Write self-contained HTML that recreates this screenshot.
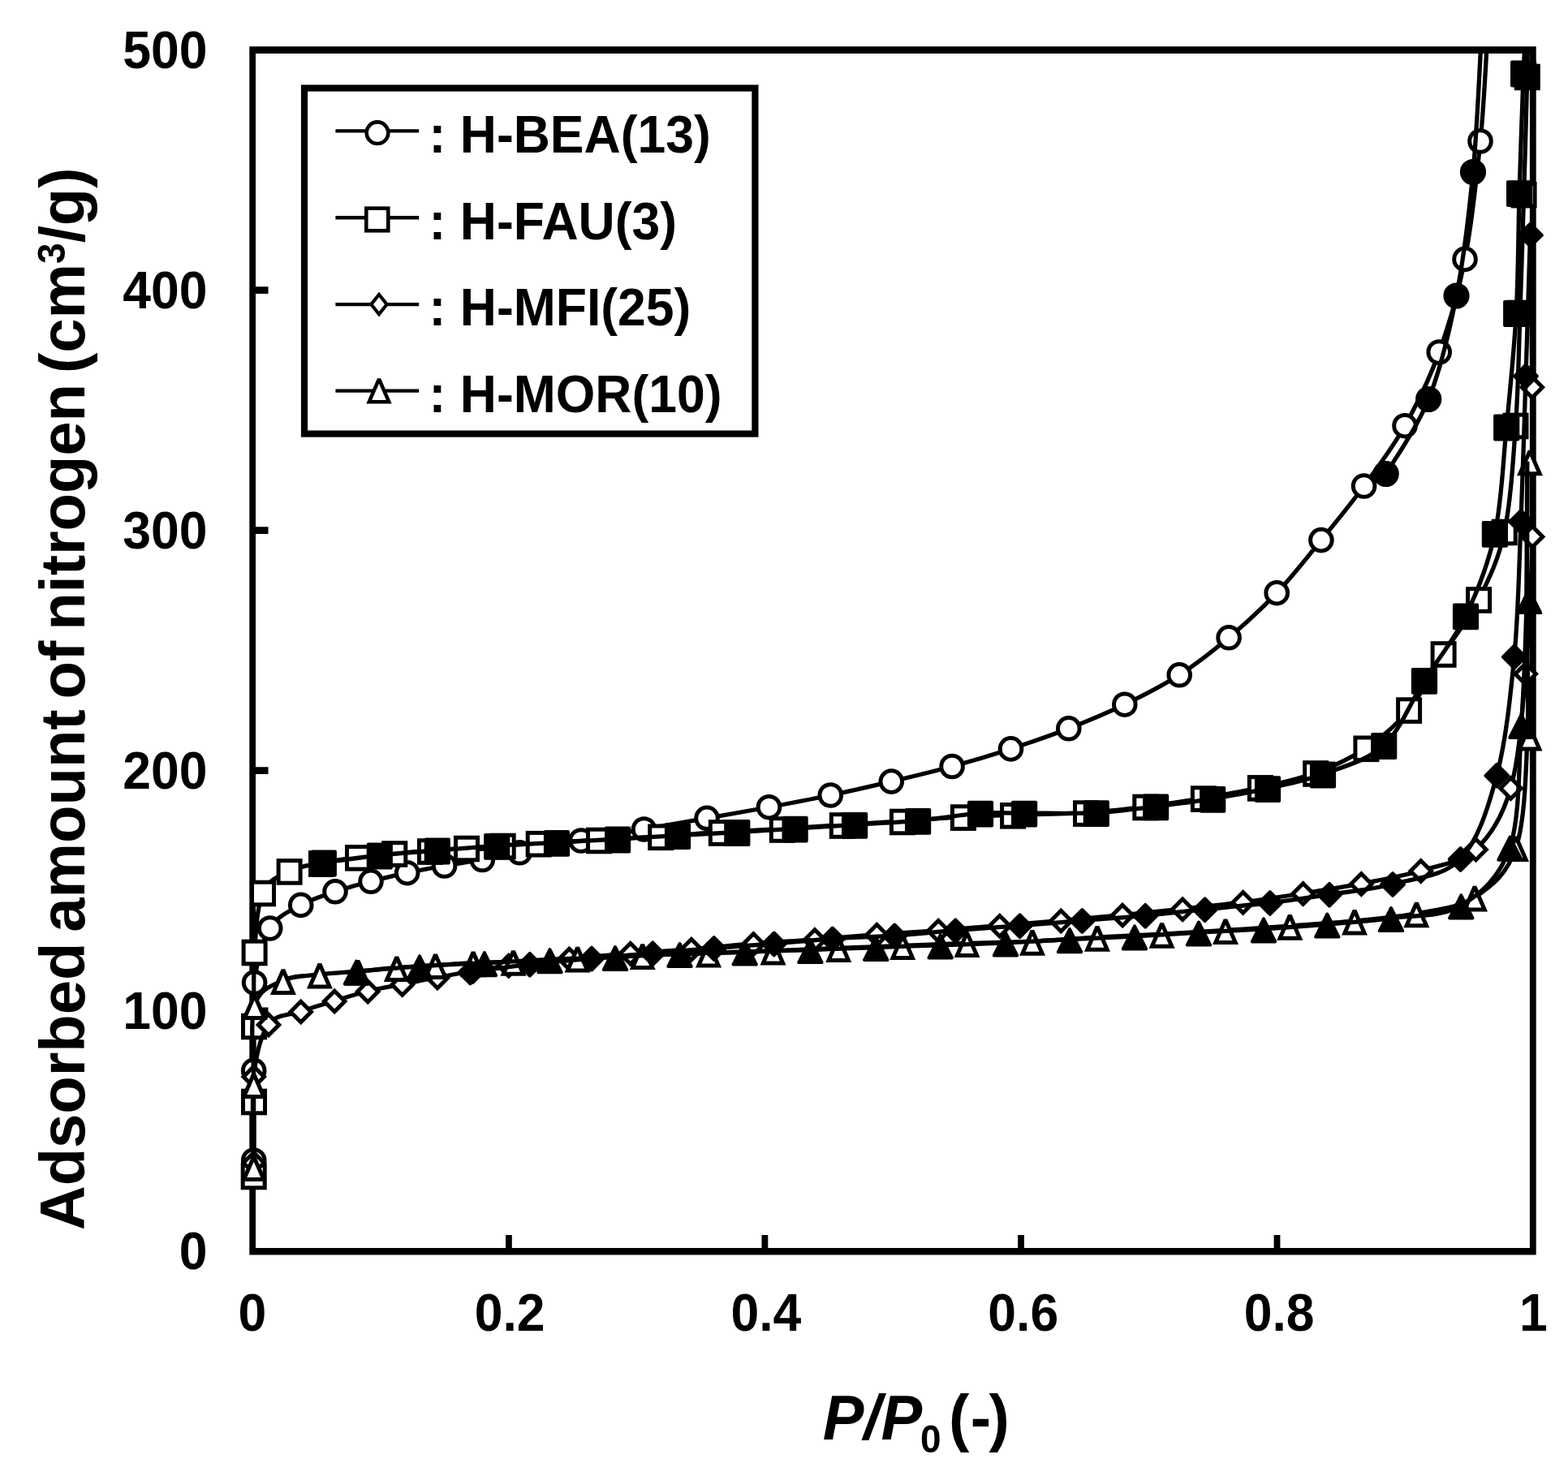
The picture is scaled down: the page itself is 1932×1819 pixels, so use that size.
<!DOCTYPE html>
<html lang="en">
<head>
<meta charset="utf-8">
<title>Nitrogen adsorption isotherms</title>
<style>
html,body{margin:0;padding:0;background:#fff;}
body{width:1932px;height:1819px;overflow:hidden;}
svg{display:block;}
text{font-family:'Liberation Sans', Arial, Helvetica, sans-serif;font-weight:bold;fill:#000;}
.tk{font-size:62.5px;}
.lg{font-size:62.5px;}
.ax{font-size:76px;}
.ln{fill:none;stroke:#000;stroke-width:5.3;stroke-linejoin:round;stroke-linecap:butt;}
.mo{fill:#fff;stroke:#000;stroke-width:5.0;stroke-linejoin:miter;stroke-miterlimit:2;}
.mf{fill:#000;stroke:#000;stroke-width:4;stroke-linejoin:round;}
.fr{fill:none;stroke:#000;}
</style>
</head>
<body>
<svg width="1932" height="1819" viewBox="0 0 1932 1819">
<rect x="0" y="0" width="1932" height="1819" fill="#fff"/>
<defs><clipPath id="plot"><rect x="291.2" y="61.7" width="1617.6" height="1490.4"/></clipPath></defs>

<path fill="#000" fill-rule="evenodd" d="M307.3 57.3H1892.7V1546.5H307.3Z M315 66V1538H1884.9V66Z"/>
<path fill="#000" d="M314.5 1241.4h16v8.8h-16zM314.5 945.3h16v8.8h-16zM314.5 649.3h16v8.8h-16zM314.5 353.2h16v8.8h-16zM623 1538.5v-16.4h7.8v16.4zM938.5 1538.5v-16.4h7.8v16.4zM1254.1 1538.5v-16.4h7.8v16.4zM1569.6 1538.5v-16.4h7.8v16.4z"/>
<g>
<path class="ln" clip-path="url(#plot)" d="M312.7 1430C312.7 1411.6 312.5 1355.9 312.7 1319.4C312.9 1282.9 310.3 1240.2 313.6 1211C316.9 1181.8 323.2 1159.9 332.7 1144C342.2 1128.1 357.3 1122.9 370.7 1115.4C384.1 1107.9 398.6 1103.7 413 1098.8C427.4 1093.9 442.2 1090.1 457 1086.3C471.8 1082.5 486.6 1078.9 501.7 1075.7C516.8 1072.5 532.2 1069.7 547.6 1067C563 1064.3 578.8 1062.2 594.3 1059.5C609.8 1056.8 620 1054.7 640.3 1050.8C660.6 1046.9 690.5 1040.8 716 1036C741.5 1031.2 767.7 1026.6 793.5 1022C819.3 1017.4 845.3 1012.8 871 1008.3C896.7 1003.8 922.1 999.4 947.5 994.7C972.9 990 998.2 985.3 1023.3 980C1048.4 974.7 1073.3 969 1098.3 963.1C1123.3 957.2 1148.6 951.2 1173.1 944.5C1197.6 937.8 1221.5 930.7 1245.5 922.9C1269.5 915.1 1293.4 906.9 1316.8 897.8C1340.2 888.7 1363.1 879.2 1385.8 868.2C1408.5 857.2 1431.8 845.5 1453.2 831.8C1474.6 818.1 1494.1 802.6 1514.1 785.8C1534.1 768.9 1554.2 750.7 1573.2 730.7C1592.2 710.7 1610 687.6 1627.9 665.6C1645.8 643.6 1663.4 622.5 1680.6 599C1697.8 575.5 1715.6 552.2 1731 524.7C1746.4 497.2 1760.9 468.2 1773.2 434C1785.5 399.8 1796.5 362.7 1805 319.4C1813.5 276.1 1819.3 220.6 1824 174C1828.7 127.4 1831.5 62.3 1833 40"/>
<g class="mo">
<circle cx="312.7" cy="1430" r="13.3"/>
<circle cx="312.7" cy="1319.4" r="13.3"/>
<circle cx="313.6" cy="1211" r="13.3"/>
<circle cx="332.7" cy="1144" r="13.3"/>
<circle cx="370.7" cy="1115.4" r="13.3"/>
<circle cx="413" cy="1098.8" r="13.3"/>
<circle cx="457" cy="1086.3" r="13.3"/>
<circle cx="501.7" cy="1075.7" r="13.3"/>
<circle cx="547.6" cy="1067" r="13.3"/>
<circle cx="594.3" cy="1059.5" r="13.3"/>
<circle cx="640.3" cy="1050.8" r="13.3"/>
<circle cx="716" cy="1036" r="13.3"/>
<circle cx="793.5" cy="1022" r="13.3"/>
<circle cx="871" cy="1008.3" r="13.3"/>
<circle cx="947.5" cy="994.7" r="13.3"/>
<circle cx="1023.3" cy="980" r="13.3"/>
<circle cx="1098.3" cy="963.1" r="13.3"/>
<circle cx="1173.1" cy="944.5" r="13.3"/>
<circle cx="1245.5" cy="922.9" r="13.3"/>
<circle cx="1316.8" cy="897.8" r="13.3"/>
<circle cx="1385.8" cy="868.2" r="13.3"/>
<circle cx="1453.2" cy="831.8" r="13.3"/>
<circle cx="1514.1" cy="785.8" r="13.3"/>
<circle cx="1573.2" cy="730.7" r="13.3"/>
<circle cx="1627.9" cy="665.6" r="13.3"/>
<circle cx="1680.6" cy="599" r="13.3"/>
<circle cx="1731" cy="524.7" r="13.3"/>
<circle cx="1773.2" cy="434" r="13.3"/>
<circle cx="1805" cy="319.4" r="13.3"/>
<circle cx="1824" cy="174" r="13.3"/>
</g>
<path class="ln" clip-path="url(#plot)" d="M312.7 1449C312.8 1433.7 312.9 1387.8 313 1357C313.1 1326.2 312.9 1294.7 313 1264C313.1 1233.3 311.8 1200.3 313.6 1173C315.4 1145.7 316.8 1116.6 324 1100C331.2 1083.4 344.6 1079.5 356.6 1073.4C368.6 1067.3 381.9 1066.3 396 1063.5C410.1 1060.7 425.9 1058.3 441 1056.3C456.1 1054.3 471.5 1052.8 486.3 1051.5C501.1 1050.2 515.2 1049.6 530 1048.5C544.8 1047.4 560 1046.1 575 1045C590 1043.9 604.9 1043 619.7 1042C634.5 1041 644 1040.4 663.7 1039.2C683.4 1038 712.9 1036.4 738 1035C763.1 1033.6 789.1 1032.4 814.2 1030.8C839.3 1029.2 863.9 1027 888.8 1025.5C913.7 1024 939 1023 963.8 1021.5C988.6 1020 1013.1 1018.1 1037.8 1016.5C1062.5 1014.9 1087.1 1013.6 1111.9 1012C1136.8 1010.4 1164.2 1007.9 1186.9 1006.6C1209.6 1005.3 1222.9 1005.1 1248.1 1004.3C1273.3 1003.5 1310.8 1003.3 1338 1001.6C1365.2 999.9 1387.1 997 1411.3 994C1435.5 991 1459.3 987.5 1482.9 983.6C1506.5 979.7 1529.9 975.6 1552.9 970.4C1576 965.2 1599.5 960.6 1621.2 952.5C1643 944.4 1664.2 934.8 1683.4 921.8C1702.6 908.8 1720.2 894 1736.1 874.6C1752 855.2 1764.3 828.2 1778.6 805.5C1792.9 782.8 1809.6 763.6 1822.1 738.5C1834.6 713.4 1846.1 690.8 1853.7 655C1861.3 619.2 1864.3 569 1867.5 524C1870.7 479 1871.3 432.5 1873 385C1874.7 337.5 1876.1 287.7 1877.6 239.2C1879.1 190.7 1881 130.7 1881.8 94C1882.6 57.3 1882.4 31.5 1882.5 19"/>
<g class="mo">
<rect x="299.2" y="1436.2" width="27" height="27.6"/>
<rect x="299.5" y="1344.2" width="27" height="27.6"/>
<rect x="299.5" y="1251.2" width="27" height="27.6"/>
<rect x="300.1" y="1160.2" width="27" height="27.6"/>
<rect x="310.5" y="1087.2" width="27" height="27.6"/>
<rect x="343.1" y="1060.6" width="27" height="27.6"/>
<rect x="382.5" y="1050.7" width="27" height="27.6"/>
<rect x="427.5" y="1043.5" width="27" height="27.6"/>
<rect x="472.8" y="1038.7" width="27" height="27.6"/>
<rect x="516.5" y="1035.7" width="27" height="27.6"/>
<rect x="561.5" y="1032.2" width="27" height="27.6"/>
<rect x="606.2" y="1029.2" width="27" height="27.6"/>
<rect x="650.2" y="1026.4" width="27" height="27.6"/>
<rect x="724.5" y="1022.2" width="27" height="27.6"/>
<rect x="800.7" y="1018" width="27" height="27.6"/>
<rect x="875.3" y="1012.7" width="27" height="27.6"/>
<rect x="950.3" y="1008.7" width="27" height="27.6"/>
<rect x="1024.3" y="1003.7" width="27" height="27.6"/>
<rect x="1098.4" y="999.2" width="27" height="27.6"/>
<rect x="1173.4" y="993.8" width="27" height="27.6"/>
<rect x="1234.6" y="991.5" width="27" height="27.6"/>
<rect x="1324.5" y="988.8" width="27" height="27.6"/>
<rect x="1397.8" y="981.2" width="27" height="27.6"/>
<rect x="1469.4" y="970.8" width="27" height="27.6"/>
<rect x="1539.4" y="957.6" width="27" height="27.6"/>
<rect x="1607.7" y="939.7" width="27" height="27.6"/>
<rect x="1669.9" y="909" width="27" height="27.6"/>
<rect x="1722.6" y="861.8" width="27" height="27.6"/>
<rect x="1765.1" y="792.7" width="27" height="27.6"/>
<rect x="1808.6" y="725.7" width="27" height="27.6"/>
<rect x="1840.2" y="642.2" width="27" height="27.6"/>
<rect x="1854" y="511.2" width="27" height="27.6"/>
<rect x="1859.5" y="372.2" width="27" height="27.6"/>
<rect x="1864.1" y="226.4" width="27" height="27.6"/>
<rect x="1868.3" y="81.2" width="27" height="27.6"/>
</g>
<path class="ln" clip-path="url(#plot)" d="M312.7 1432.5C312.7 1414.8 309.6 1354.8 312.7 1326.5C315.8 1298.2 321.3 1275.8 331 1262.5C340.7 1249.2 357.2 1251.3 370.7 1246.5C384.2 1241.7 398.4 1237.7 412.2 1233.5C425.9 1229.3 439.3 1224.9 453.2 1221.5C467.1 1218.1 481.4 1215.8 495.7 1213C510 1210.2 524.5 1207.2 539 1204.5C553.5 1201.8 568.4 1199 583 1196.5C597.6 1194 607 1192.3 626.7 1189.8C646.4 1187.3 676.4 1184 701.4 1181.5C726.4 1179 751.7 1176.8 776.8 1174.8C801.9 1172.8 826.6 1171.8 851.9 1169.8C877.2 1167.8 903.1 1164.9 928.4 1162.9C953.7 1160.9 978.6 1159.8 1003.9 1157.9C1029.2 1156 1055 1153.6 1080.4 1151.7C1105.8 1149.8 1131 1148.5 1156.2 1146.7C1181.4 1144.9 1206.6 1142.7 1231.8 1140.7C1257 1138.7 1282.1 1136.7 1307.3 1134.5C1332.5 1132.3 1358.1 1130 1383.1 1127.6C1408.1 1125.2 1432.3 1122.8 1457.1 1120.2C1481.8 1117.6 1506.8 1115 1531.6 1111.8C1556.3 1108.6 1581.3 1104.8 1605.6 1101C1629.9 1097.2 1653.1 1093.6 1677.3 1088.9C1701.5 1084.2 1727.2 1080.1 1750.7 1073C1774.2 1065.9 1800 1063.5 1818.5 1046.5C1837 1029.5 1851.3 1007.1 1861.5 971C1871.7 934.9 1875.3 881.8 1879.7 830.1C1884.1 778.4 1886.8 719.8 1888.1 660.9C1889.4 602 1888.1 538.7 1887.8 476.8C1887.5 414.9 1886.3 320.7 1886 289.5"/>
<g class="mo">
<path d="M312.7 1420.3L325.4 1433L312.7 1445.7L300 1433Z"/>
<path d="M312.7 1314.3L325.4 1327L312.7 1339.7L300 1327Z"/>
<path d="M331 1250.3L343.7 1263L331 1275.7L318.3 1263Z"/>
<path d="M370.7 1234.3L383.4 1247L370.7 1259.7L358 1247Z"/>
<path d="M412.2 1221.3L424.9 1234L412.2 1246.7L399.5 1234Z"/>
<path d="M453.2 1209.3L465.9 1222L453.2 1234.7L440.5 1222Z"/>
<path d="M495.7 1200.8L508.4 1213.5L495.7 1226.2L483 1213.5Z"/>
<path d="M539 1192.3L551.7 1205L539 1217.7L526.3 1205Z"/>
<path d="M583 1184.3L595.7 1197L583 1209.7L570.3 1197Z"/>
<path d="M626.7 1177.6L639.4 1190.3L626.7 1203L614 1190.3Z"/>
<path d="M701.4 1169.3L714.1 1182L701.4 1194.7L688.7 1182Z"/>
<path d="M776.8 1162.6L789.5 1175.3L776.8 1188L764.1 1175.3Z"/>
<path d="M851.9 1157.6L864.6 1170.3L851.9 1183L839.2 1170.3Z"/>
<path d="M928.4 1150.7L941.1 1163.4L928.4 1176.1L915.7 1163.4Z"/>
<path d="M1003.9 1145.7L1016.6 1158.4L1003.9 1171.1L991.2 1158.4Z"/>
<path d="M1080.4 1139.5L1093.1 1152.2L1080.4 1164.9L1067.7 1152.2Z"/>
<path d="M1156.2 1134.5L1168.9 1147.2L1156.2 1159.9L1143.5 1147.2Z"/>
<path d="M1231.8 1128.5L1244.5 1141.2L1231.8 1153.9L1219.1 1141.2Z"/>
<path d="M1307.3 1122.3L1320 1135L1307.3 1147.7L1294.6 1135Z"/>
<path d="M1383.1 1115.4L1395.8 1128.1L1383.1 1140.8L1370.4 1128.1Z"/>
<path d="M1457.1 1108L1469.8 1120.7L1457.1 1133.4L1444.4 1120.7Z"/>
<path d="M1531.6 1099.6L1544.3 1112.3L1531.6 1125L1518.9 1112.3Z"/>
<path d="M1605.6 1088.8L1618.3 1101.5L1605.6 1114.2L1592.9 1101.5Z"/>
<path d="M1677.3 1076.7L1690 1089.4L1677.3 1102.1L1664.6 1089.4Z"/>
<path d="M1750.7 1060.8L1763.4 1073.5L1750.7 1086.2L1738 1073.5Z"/>
<path d="M1818.5 1034.3L1831.2 1047L1818.5 1059.7L1805.8 1047Z"/>
<path d="M1861.5 958.8L1874.2 971.5L1861.5 984.2L1848.8 971.5Z"/>
<path d="M1879.7 817.9L1892.4 830.6L1879.7 843.3L1867 830.6Z"/>
<path d="M1888.1 648.7L1900.8 661.4L1888.1 674.1L1875.4 661.4Z"/>
<path d="M1887.8 464.6L1900.5 477.3L1887.8 490L1875.1 477.3Z"/>
<path d="M1886 277.3L1898.7 290L1886 302.7L1873.3 290Z"/>
</g>
<path class="ln" clip-path="url(#plot)" d="M312.7 1438.5C312.7 1421.5 312.5 1369.7 312.7 1336.5C312.9 1303.3 307.6 1260.9 313.6 1239.5C319.6 1218.1 335.5 1214.7 348.9 1208.3C362.3 1201.9 378.5 1202.8 393.9 1200.9C409.2 1199 425.2 1198.4 441 1197C456.8 1195.6 472.9 1193.8 488.8 1192.5C504.7 1191.2 520.8 1190.5 536.5 1189.5C552.2 1188.5 567.1 1187.3 583.1 1186.6C599.1 1185.9 611.1 1186.2 632.5 1185.2C653.9 1184.2 685.1 1182.1 711.6 1180.8C738.1 1179.5 764.8 1178.3 791.7 1177.3C818.6 1176.3 846.2 1175.7 873 1174.8C899.8 1173.9 925.8 1172.8 952.5 1171.8C979.2 1170.8 1006.6 1169.5 1033.2 1168.5C1059.8 1167.5 1085.8 1166.5 1112.2 1165.5C1138.6 1164.5 1164.9 1163.4 1191.5 1162.5C1218.1 1161.6 1245.2 1161.3 1272 1160.1C1298.8 1158.9 1325.4 1156.6 1352 1155.1C1378.6 1153.6 1405.3 1152.6 1431.6 1151.2C1457.9 1149.8 1483.7 1148.2 1510 1146.5C1536.3 1144.8 1562.8 1143 1589.3 1141.1C1615.8 1139.2 1643 1137.5 1669 1134.9C1695 1132.3 1720.6 1130.6 1745.3 1125.7C1770 1120.8 1796.5 1119.3 1817 1105.8C1837.5 1092.3 1857.2 1077.5 1868 1044.5C1878.8 1011.5 1879.8 958.8 1882 908C1884.2 857.2 1881 796 1881 739.5C1881 683 1881.7 597.2 1881.8 568.7"/>
<g class="mo">
<path d="M312.7 1425.5L324.9 1453.6L300.5 1453.6Z"/>
<path d="M312.7 1323.5L324.9 1351.6L300.5 1351.6Z"/>
<path d="M313.6 1226.5L325.8 1254.6L301.4 1254.6Z"/>
<path d="M348.9 1195.3L361.1 1223.4L336.7 1223.4Z"/>
<path d="M393.9 1187.9L406.1 1216L381.7 1216Z"/>
<path d="M441 1184L453.2 1212.1L428.8 1212.1Z"/>
<path d="M488.8 1179.5L501 1207.6L476.6 1207.6Z"/>
<path d="M536.5 1176.5L548.7 1204.6L524.3 1204.6Z"/>
<path d="M583.1 1173.6L595.3 1201.7L570.9 1201.7Z"/>
<path d="M632.5 1172.2L644.7 1200.3L620.3 1200.3Z"/>
<path d="M711.6 1167.8L723.8 1195.9L699.4 1195.9Z"/>
<path d="M791.7 1164.3L803.9 1192.4L779.5 1192.4Z"/>
<path d="M873 1161.8L885.2 1189.9L860.8 1189.9Z"/>
<path d="M952.5 1158.8L964.7 1186.9L940.3 1186.9Z"/>
<path d="M1033.2 1155.5L1045.4 1183.6L1021 1183.6Z"/>
<path d="M1112.2 1152.5L1124.4 1180.6L1100 1180.6Z"/>
<path d="M1191.5 1149.5L1203.7 1177.6L1179.3 1177.6Z"/>
<path d="M1272 1147.1L1284.2 1175.2L1259.8 1175.2Z"/>
<path d="M1352 1142.1L1364.2 1170.2L1339.8 1170.2Z"/>
<path d="M1431.6 1138.2L1443.8 1166.3L1419.4 1166.3Z"/>
<path d="M1510 1133.5L1522.2 1161.6L1497.8 1161.6Z"/>
<path d="M1589.3 1128.1L1601.5 1156.2L1577.1 1156.2Z"/>
<path d="M1669 1121.9L1681.2 1150L1656.8 1150Z"/>
<path d="M1745.3 1112.7L1757.5 1140.8L1733.1 1140.8Z"/>
<path d="M1817 1092.8L1829.2 1120.9L1804.8 1120.9Z"/>
<path d="M1868 1031.5L1880.2 1059.6L1855.8 1059.6Z"/>
<path d="M1884.5 895L1896.7 923.1L1872.3 923.1Z"/>
<path d="M1884 726.5L1896.2 754.6L1871.8 754.6Z"/>
<path d="M1885 555.7L1897.2 583.8L1872.8 583.8Z"/>
</g>
<path class="ln" clip-path="url(#plot)" d="M1825.5 40C1823.8 68.7 1820.2 157.9 1815 212C1809.8 266.1 1803.6 317.8 1794.5 364.5C1785.4 411.2 1774.7 455.4 1760.2 492C1745.7 528.6 1716.5 568.7 1707.7 584"/>
<g class="mf">
<circle cx="1815" cy="212" r="14.1"/>
<circle cx="1794.5" cy="364.5" r="14.1"/>
<circle cx="1760.2" cy="492" r="14.1"/>
<circle cx="1707.7" cy="584" r="14.1"/>
</g>
<path class="ln" clip-path="url(#plot)" d="M1881 19C1880.3 30.8 1878.6 53.6 1877.1 90C1875.6 126.4 1873.6 188.4 1872.1 237.7C1870.6 286.9 1870.8 337.4 1868.2 385.5C1865.6 433.6 1860.6 480.7 1856.2 526C1851.8 571.3 1850.3 618.6 1841.9 657.4C1833.5 696.2 1820.5 728.7 1806 758.9C1791.5 789.1 1771.8 811.8 1755 838.4C1738.2 865 1726 899.2 1705.2 918.5C1684.4 937.8 1653.9 945.1 1630 954C1606.1 962.9 1584.6 966.6 1562 971.6C1539.4 976.6 1517.2 980.6 1494.2 984.3C1471.2 988 1448 990.9 1424.1 993.8C1400.2 996.7 1377.8 1000.2 1350.8 1001.6C1323.8 1003 1285.9 1002 1262.1 1002.1C1238.3 1002.2 1229.8 1000.7 1208 1002.2C1186.2 1003.7 1156.9 1008.9 1131.1 1011.3C1105.3 1013.6 1078.3 1014.6 1053.1 1016.3C1027.8 1017.9 1003.7 1019.7 979.6 1021.2C955.5 1022.7 932.4 1024.1 908.3 1025.5C884.2 1026.9 859.5 1028.3 835 1029.7C810.5 1031.1 785.9 1032.5 761.1 1034C736.3 1035.5 710.8 1037 686 1038.4C661.2 1039.8 636.7 1040.7 612.2 1042.3C587.7 1043.9 562.9 1046 538.8 1048C514.7 1050 491.1 1051.5 467.8 1054C444.5 1056.5 410.3 1061.5 398.8 1063"/>
<g class="mf">
<rect x="1863" y="76.6" width="28.2" height="28.8"/>
<rect x="1858" y="224.3" width="28.2" height="28.8"/>
<rect x="1854.1" y="372.1" width="28.2" height="28.8"/>
<rect x="1842.1" y="512.6" width="28.2" height="28.8"/>
<rect x="1827.8" y="644" width="28.2" height="28.8"/>
<rect x="1791.9" y="745.5" width="28.2" height="28.8"/>
<rect x="1740.9" y="825" width="28.2" height="28.8"/>
<rect x="1691.1" y="905.1" width="28.2" height="28.8"/>
<rect x="1615.9" y="940.6" width="28.2" height="28.8"/>
<rect x="1547.9" y="958.2" width="28.2" height="28.8"/>
<rect x="1480.1" y="970.9" width="28.2" height="28.8"/>
<rect x="1410" y="980.4" width="28.2" height="28.8"/>
<rect x="1336.7" y="988.2" width="28.2" height="28.8"/>
<rect x="1248" y="988.7" width="28.2" height="28.8"/>
<rect x="1193.9" y="988.8" width="28.2" height="28.8"/>
<rect x="1117" y="997.9" width="28.2" height="28.8"/>
<rect x="1039" y="1002.9" width="28.2" height="28.8"/>
<rect x="965.5" y="1007.8" width="28.2" height="28.8"/>
<rect x="894.2" y="1012.1" width="28.2" height="28.8"/>
<rect x="820.9" y="1016.3" width="28.2" height="28.8"/>
<rect x="747" y="1020.6" width="28.2" height="28.8"/>
<rect x="671.9" y="1025" width="28.2" height="28.8"/>
<rect x="598.1" y="1028.9" width="28.2" height="28.8"/>
<rect x="524.7" y="1034.6" width="28.2" height="28.8"/>
<rect x="453.7" y="1040.6" width="28.2" height="28.8"/>
<rect x="384.7" y="1049.6" width="28.2" height="28.8"/>
</g>
<path class="ln" clip-path="url(#plot)" d="M1885.5 289C1884.6 318 1881.9 404.2 1880 463.1C1878.1 522 1876.4 584.8 1874 642.5C1871.6 700.2 1870.8 757 1865.8 809.1C1860.8 861.2 1855.3 913.7 1844.3 955.3C1833.3 996.9 1821 1036.1 1799.6 1058.5C1778.2 1080.9 1742.9 1082.2 1716 1089.5C1689.1 1096.8 1663.2 1098.4 1638 1102.2C1612.8 1106 1590.4 1109.4 1564.8 1112.5C1539.2 1115.6 1510.2 1118.1 1484.6 1120.7C1459 1123.3 1436.4 1126 1411.2 1128.3C1386 1130.6 1359.2 1132.4 1333.4 1134.5C1307.6 1136.6 1282.6 1138.7 1256.6 1140.7C1230.6 1142.7 1203 1144.7 1177.3 1146.7C1151.6 1148.7 1127.5 1151.2 1102.3 1152.9C1077 1154.6 1050.6 1155.2 1025.8 1156.9C1001 1158.6 978.1 1161 953.7 1162.9C929.4 1164.8 904.6 1166.5 879.7 1168.5C854.8 1170.5 829.3 1172.7 804.2 1174.8C779.1 1176.9 754.2 1178.8 729 1181.1C703.8 1183.3 677.7 1185.5 652.8 1188.3C627.9 1191.1 591.6 1196.4 579.4 1198"/>
<g class="mf">
<path d="M1885.5 275.6L1899.4 289.5L1885.5 303.4L1871.6 289.5Z"/>
<path d="M1880 449.7L1893.9 463.6L1880 477.5L1866.1 463.6Z"/>
<path d="M1874 629.1L1887.9 643L1874 656.9L1860.1 643Z"/>
<path d="M1865.8 795.7L1879.7 809.6L1865.8 823.5L1851.9 809.6Z"/>
<path d="M1844.3 941.9L1858.2 955.8L1844.3 969.7L1830.4 955.8Z"/>
<path d="M1799.6 1045.1L1813.5 1059L1799.6 1072.9L1785.7 1059Z"/>
<path d="M1716 1076.1L1729.9 1090L1716 1103.9L1702.1 1090Z"/>
<path d="M1638 1088.8L1651.9 1102.7L1638 1116.6L1624.1 1102.7Z"/>
<path d="M1564.8 1099.1L1578.7 1113L1564.8 1126.9L1550.9 1113Z"/>
<path d="M1484.6 1107.3L1498.5 1121.2L1484.6 1135.1L1470.7 1121.2Z"/>
<path d="M1411.2 1114.9L1425.1 1128.8L1411.2 1142.7L1397.3 1128.8Z"/>
<path d="M1333.4 1121.1L1347.3 1135L1333.4 1148.9L1319.5 1135Z"/>
<path d="M1256.6 1127.3L1270.5 1141.2L1256.6 1155.1L1242.7 1141.2Z"/>
<path d="M1177.3 1133.3L1191.2 1147.2L1177.3 1161.1L1163.4 1147.2Z"/>
<path d="M1102.3 1139.5L1116.2 1153.4L1102.3 1167.3L1088.4 1153.4Z"/>
<path d="M1025.8 1143.5L1039.7 1157.4L1025.8 1171.3L1011.9 1157.4Z"/>
<path d="M953.7 1149.5L967.6 1163.4L953.7 1177.3L939.8 1163.4Z"/>
<path d="M879.7 1155.1L893.6 1169L879.7 1182.9L865.8 1169Z"/>
<path d="M804.2 1161.4L818.1 1175.3L804.2 1189.2L790.3 1175.3Z"/>
<path d="M729 1167.7L742.9 1181.6L729 1195.5L715.1 1181.6Z"/>
<path d="M652.8 1174.9L666.7 1188.8L652.8 1202.7L638.9 1188.8Z"/>
<path d="M579.4 1184.6L593.3 1198.5L579.4 1212.4L565.5 1198.5Z"/>
</g>
<path class="ln" clip-path="url(#plot)" d="M1881.8 568.7C1881.7 597.2 1882.2 685.4 1881 739.5C1879.8 793.6 1877.9 842.5 1874.5 893.3C1871.1 944.1 1872.9 1007 1860.5 1044.1C1848.1 1081.2 1824.7 1101.3 1800.3 1115.9C1775.9 1130.5 1741.5 1127.7 1714 1131.5C1686.5 1135.3 1661.5 1136.8 1635.3 1139C1609.1 1141.2 1583.4 1143.1 1557 1144.8C1530.6 1146.5 1503.5 1147.5 1477 1149C1450.5 1150.5 1424.5 1152.5 1398 1153.9C1371.5 1155.3 1344.5 1156.3 1318 1157.6C1291.5 1158.9 1265.5 1160.7 1239 1161.9C1212.5 1163.1 1185.3 1163.9 1158.7 1164.8C1132.1 1165.7 1105.9 1166.5 1079.2 1167.5C1052.5 1168.5 1025.3 1169.6 998.4 1170.5C971.5 1171.4 944.5 1172.2 917.7 1173C890.9 1173.8 864.1 1174.4 837.5 1175.5C810.9 1176.6 784.7 1178.3 758 1179.5C731.3 1180.7 704.4 1181.5 677.5 1182.7C650.6 1183.9 623.6 1185.2 596.9 1186.6C570.1 1188 543.3 1189.2 517 1190.9C490.7 1192.7 452 1196.1 439 1197.1"/>
<g class="mf">
<path d="M1884 727L1898.2 755.1L1869.8 755.1Z"/>
<path d="M1874.5 880.8L1888.7 908.9L1860.3 908.9Z"/>
<path d="M1860.5 1031.6L1874.7 1059.7L1846.3 1059.7Z"/>
<path d="M1800.3 1103.4L1814.5 1131.5L1786.1 1131.5Z"/>
<path d="M1714 1119L1728.2 1147.1L1699.8 1147.1Z"/>
<path d="M1635.3 1126.5L1649.5 1154.6L1621.1 1154.6Z"/>
<path d="M1557 1132.3L1571.2 1160.4L1542.8 1160.4Z"/>
<path d="M1477 1136.5L1491.2 1164.6L1462.8 1164.6Z"/>
<path d="M1398 1141.4L1412.2 1169.5L1383.8 1169.5Z"/>
<path d="M1318 1145.1L1332.2 1173.2L1303.8 1173.2Z"/>
<path d="M1239 1149.4L1253.2 1177.5L1224.8 1177.5Z"/>
<path d="M1158.7 1152.3L1172.9 1180.4L1144.5 1180.4Z"/>
<path d="M1079.2 1155L1093.4 1183.1L1065 1183.1Z"/>
<path d="M998.4 1158L1012.6 1186.1L984.2 1186.1Z"/>
<path d="M917.7 1160.5L931.9 1188.6L903.5 1188.6Z"/>
<path d="M837.5 1163L851.7 1191.1L823.3 1191.1Z"/>
<path d="M758 1167L772.2 1195.1L743.8 1195.1Z"/>
<path d="M677.5 1170.2L691.7 1198.3L663.3 1198.3Z"/>
<path d="M596.9 1174.1L611.1 1202.2L582.7 1202.2Z"/>
<path d="M517 1178.4L531.2 1206.5L502.8 1206.5Z"/>
<path d="M439 1184.6L453.2 1212.7L424.8 1212.7Z"/>
</g>
</g>
<text class="tk" text-anchor="end" transform="translate(255.6 1563.9) scale(1 1.035)">0</text>
<text class="tk" text-anchor="end" transform="translate(255.6 1267.8) scale(1 1.035)">100</text>
<text class="tk" text-anchor="end" transform="translate(255.6 971.7) scale(1 1.035)">200</text>
<text class="tk" text-anchor="end" transform="translate(255.6 675.7) scale(1 1.035)">300</text>
<text class="tk" text-anchor="end" transform="translate(255.6 379.6) scale(1 1.035)">400</text>
<text class="tk" text-anchor="end" transform="translate(255.6 83.5) scale(1 1.035)">500</text>
<text class="tk" text-anchor="middle" transform="translate(311 1640.2) scale(1 1.035)">0</text>
<text class="tk" text-anchor="middle" transform="translate(628.1 1640.2) scale(1 1.035)">0.2</text>
<text class="tk" text-anchor="middle" transform="translate(943.9 1640.2) scale(1 1.035)">0.4</text>
<text class="tk" text-anchor="middle" transform="translate(1260.7 1640.2) scale(1 1.035)">0.6</text>
<text class="tk" text-anchor="middle" transform="translate(1576.1 1640.2) scale(1 1.035)">0.8</text>
<text class="tk" text-anchor="middle" transform="translate(1889.5 1640.2) scale(1 1.035)">1</text>
<text class="ax" transform="translate(104.2 1516.2) rotate(-90) scale(1 1.03)" word-spacing="-8.2"><tspan>Adsorbed amount of nitrogen (cm</tspan><tspan font-size="46" dy="-23.5">3</tspan><tspan dy="23.5">/g)</tspan></text>
<text class="ax" transform="translate(0 1773.8) scale(1 1.03)"><tspan x="1013.7" font-style="italic">P/P</tspan><tspan x="1134.1" font-size="46" dy="15.3">0</tspan><tspan x="1168.9" dy="-15.3">(</tspan><tspan x="1195.7">-</tspan><tspan x="1218.5">)</tspan></text>
<rect x="375" y="108.6" width="555.4" height="426" fill="#fff" stroke="#000" stroke-width="8.2"/>
<path class="ln" style="stroke-width:4.4px" d="M413.4 161.4H516.2"/>
<g class="mo" style="stroke-width:4.6px"><circle cx="465" cy="163.7" r="13.3"/></g>
<text class="lg" transform="translate(528.6 187.7) scale(1 1.035)">: H-BEA(13)</text>
<path class="ln" style="stroke-width:4.4px" d="M413.4 268.3H516.2"/>
<g class="mo" style="stroke-width:4.6px"><rect x="451.3" y="256.7" width="27" height="27.6"/></g>
<text class="lg" transform="translate(528.6 294.9) scale(1 1.035)">: H-FAU(3)</text>
<path class="ln" style="stroke-width:4.4px" d="M413.4 375.1H516.2"/>
<g class="mo" style="stroke-width:4.2px"><path d="M467 363L476.7 375.1L467 387.2L457.3 375.1Z"/></g>
<text class="lg" transform="translate(528.6 401.3) scale(1 1.035)">: H-MFI(25)</text>
<path class="ln" style="stroke-width:4.4px" d="M413.4 481.6H516.2"/>
<g class="mo" style="stroke-width:4.6px"><path d="M467 467.1L479.2 495.2L454.8 495.2Z"/></g>
<text class="lg" transform="translate(528.6 507.8) scale(1 1.035)">: H-MOR(10)</text>
</svg>
</body>
</html>
